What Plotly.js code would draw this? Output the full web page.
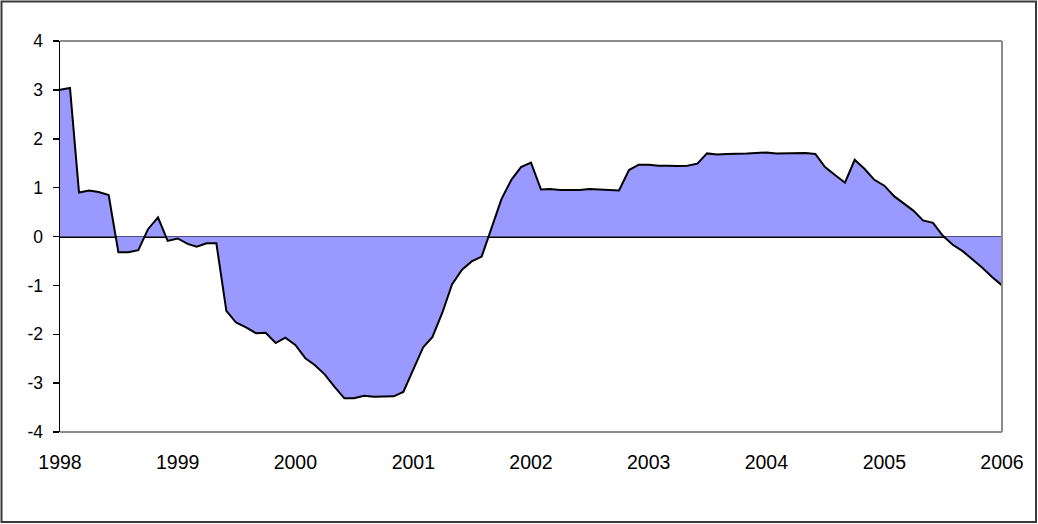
<!DOCTYPE html>
<html>
<head>
<meta charset="utf-8">
<script src="https://cdn.plot.ly/plotly-3.0.1.min.js"></script>
<style>
html,body{margin:0;padding:0;background:#fff;}
#chart{width:1038px;height:524px;}
</style>
</head>
<body>
<div id="chart"></div>
<script>
// Monthly series, January 1998 .. January 2006
var startYear = 1998;
var values = [
  3.00, 3.04, 0.90, 0.94, 0.91, 0.85, -0.32, -0.32, -0.28, 0.15, 0.39, -0.09,
  -0.04, -0.15, -0.21, -0.14, -0.14, -1.52, -1.76, -1.86, -1.98, -1.97, -2.18, -2.07,
  -2.22, -2.49, -2.63, -2.82, -3.07, -3.31, -3.31, -3.26, -3.28, -3.27, -3.27, -3.18,
  -2.72, -2.26, -2.06, -1.56, -0.98, -0.68, -0.51, -0.41, 0.18, 0.76, 1.16, 1.42,
  1.51, 0.96, 0.97, 0.95, 0.95, 0.95, 0.97, 0.96, 0.95, 0.94, 1.36, 1.47,
  1.47, 1.45, 1.45, 1.44, 1.45, 1.49, 1.70, 1.68, 1.69, 1.69, 1.70, 1.71,
  1.72, 1.70, 1.70, 1.71, 1.71, 1.69, 1.42, 1.26, 1.10, 1.57, 1.38, 1.16,
  1.04, 0.82, 0.68, 0.53, 0.33, 0.28, 0.02, -0.17, -0.30, -0.46, -0.64, -0.83,
  -1.00
];
var yearLabels = ['1998','1999','2000','2001','2002','2003','2004','2005','2006'];
var yTicks = [-4,-3,-2,-1,0,1,2,3,4];

// month dates (categories of the x axis)
var months = values.map(function(v, i){
  var y = startYear + Math.floor(i/12);
  var m = (i % 12) + 1;
  return y + '-' + (m < 10 ? '0' + m : m) + '-01';
});
var yearDates = yearLabels.map(function(y){ return y + '-01-01'; });

var W = 1038, H = 524;
var L = 60, R = 36, T = 41, B = 92;
var pw = W - L - R, ph = H - T - B;
function px(x){ return (x - L) / pw; }
function py(y){ return (H - B - y) / ph; }

var trace = {
  x: months,
  y: values,
  type: 'scatter',
  mode: 'lines',
  fill: 'tozeroy',
  fillcolor: '#9999FF',
  line: {color: '#000000', width: 2},
  hoverinfo: 'x+y'
};

var grey = '#8c8c8c';
var layout = {
  width: W, height: H,
  margin: {l: L, r: R, t: T, b: B, pad: 0},
  paper_bgcolor: '#ffffff',
  plot_bgcolor: '#ffffff',
  showlegend: false,
  font: {family: 'Liberation Sans, Arial, sans-serif', color: '#000000'},
  xaxis: {
    type: 'date',
    range: [yearDates[0], yearDates[yearDates.length - 1]],
    tickmode: 'array',
    tickvals: yearDates,
    ticktext: yearLabels,
    ticks: '',
    showgrid: false,
    zeroline: false,
    showline: false,
    ticklabelstandoff: 16,
    tickfont: {size: 19.5, family: 'Liberation Sans, Arial, sans-serif', color: '#000'}
  },
  yaxis: {
    range: [-4, 4],
    tickmode: 'array',
    tickvals: yTicks,
    ticktext: yTicks.map(String),
    ticks: 'outside',
    ticklen: 6,
    tickwidth: 1.5,
    tickcolor: '#000',
    showline: true,
    linecolor: '#000',
    linewidth: 1.5,
    showgrid: false,
    zeroline: true,
    zerolinecolor: '#000',
    zerolinewidth: 2,
    ticklabelstandoff: 6,
    tickfont: {size: 17.5, family: 'Liberation Sans, Arial, sans-serif', color: '#000'}
  },
  shapes: [
    {type: 'line', xref: 'paper', yref: 'paper', x0: 0, x1: 1, y0: 1, y1: 1,
     line: {color: grey, width: 2}, layer: 'above'},
    {type: 'line', xref: 'paper', yref: 'paper', x0: 1, x1: 1, y0: 0, y1: 1,
     line: {color: grey, width: 2}, layer: 'above'},
    {type: 'line', xref: 'paper', yref: 'paper', x0: 0, x1: 1, y0: 0, y1: 0,
     line: {color: grey, width: 2}, layer: 'above'},
    {type: 'rect', xref: 'paper', yref: 'paper',
     x0: px(1.5), x1: px(1036), y0: py(1.5), y1: py(522),
     line: {color: '#3a3a3a', width: 2}, fillcolor: 'rgba(0,0,0,0)', layer: 'above'}
  ]
};

Plotly.newPlot('chart', [trace], layout, {displayModeBar: false, staticPlot: true});
</script>
</body>
</html>
